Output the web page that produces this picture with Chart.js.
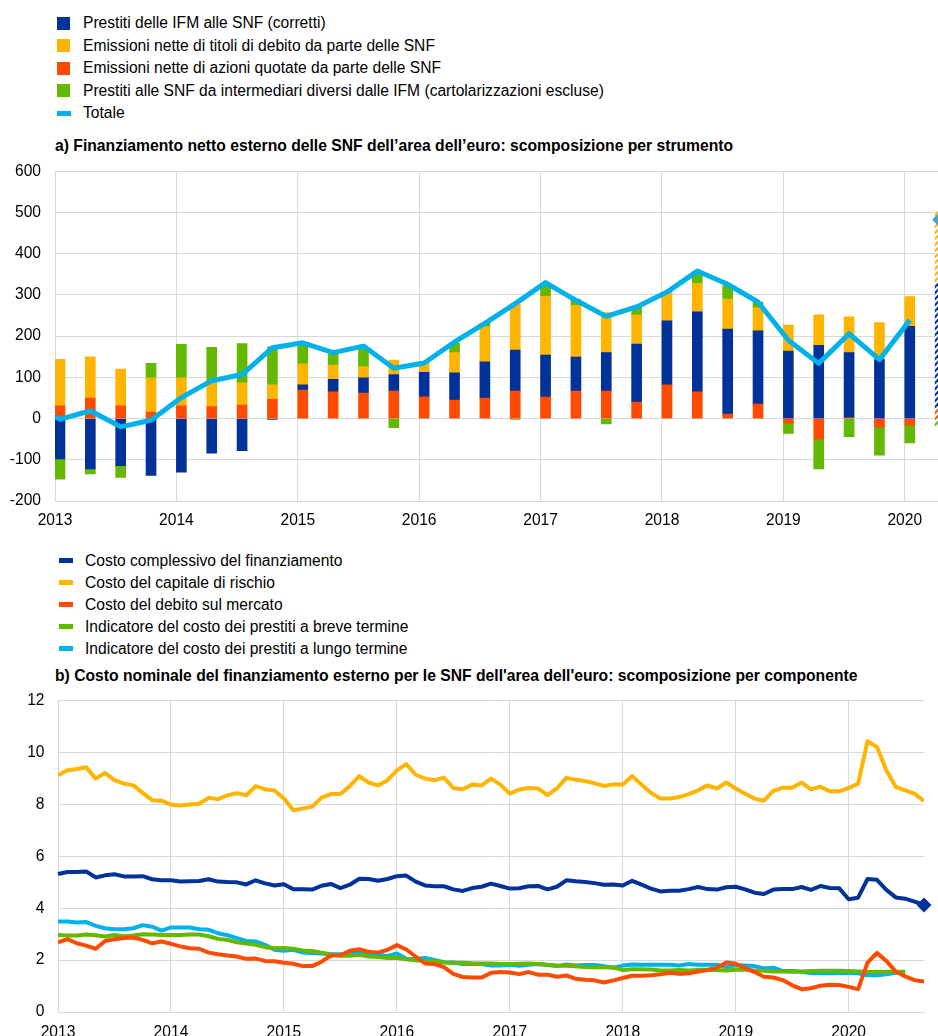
<!DOCTYPE html>
<html>
<head>
<meta charset="utf-8">
<script src="https://cdn.jsdelivr.net/npm/chart.js@4.4.0/dist/chart.umd.min.js"></script>
<style>
html,body{margin:0;padding:0;background:#fff;}
body{width:938px;height:1036px;position:relative;overflow:hidden;font-family:"Liberation Sans",Arial,sans-serif;color:#000;}
.leg{position:absolute;font-size:15.6px;line-height:18px;white-space:nowrap;}
.mk{position:absolute;}
.title{position:absolute;left:55px;font-weight:bold;font-size:15.7px;line-height:18px;white-space:nowrap;}
#wa{position:absolute;left:0;top:148px;}
#wb{position:absolute;left:0;top:678px;}
</style>
</head>
<body>
<div id="legA"></div>
<div class="title" style="top:137px">a) Finanziamento netto esterno delle SNF dell’area dell’euro: scomposizione per strumento</div>
<canvas id="wa" width="938" height="392"></canvas>
<div id="legB"></div>
<div class="title" style="top:667px">b) Costo nominale del finanziamento esterno per le SNF dell'area dell'euro: scomposizione per componente</div>
<canvas id="wb" width="938" height="358"></canvas>
<script>
// ---------- Panel a data (EUR billions, quarterly flows) ----------
const quarters = ['2012Q4',
  '2013Q1','2013Q2','2013Q3','2013Q4','2014Q1','2014Q2','2014Q3','2014Q4',
  '2015Q1','2015Q2','2015Q3','2015Q4','2016Q1','2016Q2','2016Q3','2016Q4',
  '2017Q1','2017Q2','2017Q3','2017Q4','2018Q1','2018Q2','2018Q3','2018Q4',
  '2019Q1','2019Q2','2019Q3','2019Q4','2020Q1','2020Q2'];
const projectedQuarter = '2020Q2';
const equityIssuance = [null,
  31,50,31,16, 31,29,33,47, 69,65,62,67, 53,45,50,67,
  52,67,67,40, 82,65,11,35, -11,-50,2,-21, -16, 25];
const mfiLoans = [null,
  -98,-122,-114,-138, -130,-84,-78,-2, 13,30,37,40, 59,66,88,99,
  102,82,93,141, 155,194,206,178, 164,178,158,143, 224, 303];
const debtIssuance = [null,
  113,100,89,83, 68,63,54,35, 51,35,27,35, 23,49,85,112,
  143,126,97,70, 68,69,73,56, 63,74,87,90, 72, 174];
const nonMfiLoans = [null,
  -49,-12,-29,35, 81,81,95,92, 46,26,46,-22, 0,24,8,-2,
  28,14,-13,20, 0,28,33,14, -25,-72,-44,-68, -43, -20];
const totalFlows = [37,
  -2,19,-20,-4, 51,92,107,172, 184,160,176,122, 135,186,231,279,
  330,287,248,271, 307,358,326,283, 190,134,206,143, 239, null];
const totalProjected = [483];
const yearTicks = [2013,2014,2015,2016,2017,2018,2019,2020];
const yTicksA = [-200,-100,0,100,200,300,400,500,600];

// ---------- Panel b data (% per annum, monthly from Jan 2013) ----------
const monthStart = 2013;
const costOverall = [
  5.32,5.40,5.40,5.42,5.19,5.27,5.31,5.23,5.23,5.24,5.12,5.08,
  5.08,5.03,5.04,5.05,5.12,5.03,5.01,5.00,4.92,5.08,4.96,4.88,
  4.93,4.73,4.73,4.72,4.87,4.94,4.78,4.91,5.14,5.13,5.06,5.13,
  5.24,5.26,5.03,4.88,4.85,4.85,4.73,4.67,4.78,4.83,4.95,4.86,
  4.76,4.77,4.85,4.86,4.73,4.83,5.08,5.04,5.01,4.97,4.91,4.92,
  4.88,5.06,4.91,4.76,4.65,4.68,4.68,4.74,4.82,4.74,4.72,4.81,
  4.83,4.73,4.60,4.55,4.72,4.74,4.74,4.82,4.71,4.86,4.78,4.77,
  4.35,4.41,5.13,5.10,4.71,4.42,4.37,4.26,4.13];
const costEquity = [
  9.13,9.32,9.37,9.44,9.00,9.22,8.94,8.81,8.74,8.45,8.17,8.15,
  8.00,7.96,8.00,8.03,8.26,8.21,8.36,8.44,8.36,8.71,8.59,8.54,
  8.24,7.78,7.85,7.92,8.27,8.41,8.41,8.71,9.10,8.85,8.74,8.94,
  9.32,9.56,9.15,9.00,8.94,9.04,8.64,8.59,8.77,8.74,9.00,8.77,
  8.42,8.58,8.64,8.62,8.36,8.62,9.03,8.96,8.91,8.82,8.72,8.78,
  8.77,9.10,8.77,8.45,8.23,8.23,8.29,8.40,8.55,8.74,8.62,8.85,
  8.62,8.42,8.23,8.15,8.53,8.65,8.65,8.85,8.59,8.69,8.51,8.51,
  8.64,8.81,10.44,10.22,9.32,8.68,8.55,8.42,8.14];
const costMarketDebt = [
  2.69,2.81,2.65,2.56,2.44,2.74,2.81,2.85,2.87,2.78,2.65,2.72,
  2.63,2.53,2.46,2.44,2.29,2.23,2.18,2.14,2.05,2.06,1.97,1.96,
  1.90,1.86,1.77,1.77,1.94,2.18,2.19,2.36,2.42,2.32,2.29,2.40,
  2.58,2.41,2.14,1.87,1.85,1.73,1.47,1.35,1.33,1.33,1.51,1.54,
  1.52,1.46,1.54,1.44,1.44,1.36,1.41,1.28,1.24,1.22,1.14,1.22,
  1.31,1.40,1.40,1.42,1.46,1.51,1.47,1.49,1.56,1.62,1.71,1.91,
  1.86,1.69,1.54,1.36,1.33,1.23,1.03,0.88,0.92,1.01,1.05,1.04,
  0.97,0.88,1.90,2.28,1.97,1.56,1.37,1.23,1.18];
const costShortLoans = [
  2.97,2.95,2.95,2.99,2.96,2.91,2.97,2.92,2.95,3.00,2.99,2.97,
  2.97,2.97,2.99,2.99,2.92,2.82,2.78,2.69,2.64,2.59,2.50,2.46,
  2.47,2.44,2.37,2.35,2.29,2.22,2.17,2.17,2.21,2.14,2.12,2.08,
  2.08,2.03,2.00,1.97,1.95,1.91,1.90,1.90,1.88,1.87,1.87,1.85,
  1.85,1.86,1.87,1.85,1.82,1.79,1.78,1.76,1.74,1.73,1.73,1.72,
  1.62,1.65,1.65,1.64,1.60,1.60,1.62,1.60,1.62,1.63,1.62,1.60,
  1.63,1.63,1.60,1.59,1.56,1.56,1.55,1.56,1.58,1.59,1.59,1.59,
  1.58,1.56,1.54,1.54,1.54,1.55,1.55];
const costLongLoans = [
  3.49,3.49,3.45,3.47,3.32,3.23,3.19,3.19,3.23,3.35,3.29,3.14,
  3.26,3.26,3.26,3.19,3.17,3.04,2.96,2.85,2.74,2.72,2.59,2.40,
  2.36,2.40,2.29,2.28,2.26,2.23,2.23,2.24,2.29,2.26,2.22,2.15,
  2.26,2.05,2.04,2.08,2.01,1.92,1.91,1.85,1.85,1.85,1.79,1.79,
  1.82,1.78,1.82,1.85,1.81,1.77,1.83,1.79,1.81,1.81,1.77,1.71,
  1.79,1.83,1.82,1.82,1.82,1.82,1.79,1.85,1.82,1.82,1.82,1.73,
  1.80,1.79,1.77,1.68,1.71,1.58,1.58,1.55,1.50,1.49,1.49,1.50,
  1.50,1.49,1.42,1.42,1.46,1.51,1.53];
const yTicksB = [0,2,4,6,8,10,12];

// ---------- styling ----------
const C = {blue:'#003299', yellow:'#ffb400', orange:'#ff4b00', green:'#65b800', cyan:'#00b1ea', teal:'#46a6c6', grid:'#d9d9d9'};
const FONT = '"Liberation Sans", Arial, sans-serif';
Chart.defaults.font.family = FONT;
Chart.defaults.font.size = 15.6;
Chart.defaults.color = '#000';

const legendA = [
  {label:'Prestiti delle IFM alle SNF (corretti)', color:C.blue, kind:'box'},
  {label:'Emissioni nette di titoli di debito da parte delle SNF', color:C.yellow, kind:'box'},
  {label:'Emissioni nette di azioni quotate da parte delle SNF', color:C.orange, kind:'box'},
  {label:'Prestiti alle SNF da intermediari diversi dalle IFM (cartolarizzazioni escluse)', color:C.green, kind:'box'},
  {label:'Totale', color:C.cyan, kind:'line'}];
const legendB = [
  {label:'Costo complessivo del finanziamento', color:C.blue},
  {label:'Costo del capitale di rischio', color:C.yellow},
  {label:'Costo del debito sul mercato', color:C.orange},
  {label:'Indicatore del costo dei prestiti a breve termine', color:C.green},
  {label:'Indicatore del costo dei prestiti a lungo termine', color:C.cyan}];

function buildLegend(id, items, y0, dy, mx, tx, kindDefault){
  const host = document.getElementById(id);
  items.forEach((it,i)=>{
    const cy = y0 + i*dy;
    const kind = it.kind || kindDefault;
    const m = document.createElement('div');
    m.className = 'mk';
    m.style.background = it.color;
    if(kind==='box'){ m.style.left=mx+'px'; m.style.top=(cy-6.5)+'px'; m.style.width='13px'; m.style.height='13px'; }
    else { m.style.left=mx+'px'; m.style.top=(cy-2.5)+'px'; m.style.width='14px'; m.style.height='5px'; }
    host.appendChild(m);
    const t = document.createElement('div');
    t.className = 'leg';
    t.style.left = tx+'px'; t.style.top = (cy-9)+'px';
    t.textContent = it.label;
    host.appendChild(t);
  });
}
buildLegend('legA', legendA, 23, 22.5, 57, 83, 'box');
buildLegend('legB', legendB, 560.5, 22, 59, 85, 'line');

// ---------- panel a ----------
const QUARTER_DATE_OFFSET = 0.041; // bars dated shortly after the start of each quarter
function qx(q){ return +q.slice(0,4) + (+q.slice(5)-1)*0.25 + QUARTER_DATE_OFFSET; }
const projIdx = quarters.indexOf(projectedQuarter);
function pts(vals){ return quarters.map((q,i)=>({x:qx(q), y:vals[i]})); }
function hatch(color){
  const c = document.createElement('canvas'); c.width = 6; c.height = 6;
  const g = c.getContext('2d');
  g.fillStyle = '#fff'; g.fillRect(0,0,6,6);
  g.strokeStyle = color; g.lineWidth = 2.2;
  g.beginPath();
  g.moveTo(-1,7); g.lineTo(7,-1);
  g.moveTo(-1,1); g.lineTo(1,-1);
  g.moveTo(5,7); g.lineTo(7,5);
  g.stroke();
  return g.createPattern(c,'repeat');
}
function barSet(label, vals, color){
  const pat = hatch(color);
  return {type:'bar', label, data:pts(vals), order:1,
    backgroundColor:(ctx)=> ctx.dataIndex===projIdx ? pat : color,
    borderWidth:0, barThickness:10};
}
const gridOpts = {color:C.grid, lineWidth:1, drawTicks:false, offset:false};
new Chart(document.getElementById('wa'), {
  data:{datasets:[
    barSet('Emissioni nette di azioni quotate da parte delle SNF', equityIssuance, C.orange),
    barSet('Prestiti delle IFM alle SNF (corretti)', mfiLoans, C.blue),
    barSet('Emissioni nette di titoli di debito da parte delle SNF', debtIssuance, C.yellow),
    barSet('Prestiti alle SNF da intermediari diversi dalle IFM (cartolarizzazioni escluse)', nonMfiLoans, C.green),
    {type:'line', label:'Totale', data:pts(totalFlows), stack:'tot', order:0,
      borderColor:C.cyan, borderWidth:5, pointRadius:0, tension:0, borderJoinStyle:'round', spanGaps:false},
    {type:'line', label:'Totale (stima)', data:[{x:qx(projectedQuarter), y:totalProjected[0]}], stack:'proj', order:0,
      showLine:false, pointStyle:'rectRot', pointRadius:8, pointBackgroundColor:C.teal, pointBorderWidth:0, clip:false}
  ]},
  options:{
    responsive:false, animation:false,
    layout:{padding:0, autoPadding:false},
    plugins:{legend:{display:false}, tooltip:{enabled:false}},
    scales:{
      x:{type:'linear', stacked:true, offset:false, min:yearTicks[0], max:2020.2735,
        afterBuildTicks:(s)=>{ s.ticks = yearTicks.map(v=>({value:v})); },
        ticks:{padding:10, maxRotation:0, autoSkip:false, callback:(v)=>String(v)},
        grid:gridOpts, border:{color:C.grid},
        afterFit:(s)=>{ s.height = 39; }},
      y:{stacked:true, min:yTicksA[0], max:yTicksA[yTicksA.length-1],
        afterBuildTicks:(s)=>{ s.ticks = yTicksA.map(v=>({value:v})); },
        ticks:{padding:14, callback:(v)=>String(v)},
        grid:gridOpts, border:{color:C.grid},
        afterFit:(s)=>{ s.width = 55; }}
    }
  }
});

// ---------- panel b ----------
function mpts(vals){ return vals.map((v,i)=>({x:monthStart + i/12, y:v})); }
function lineSet(label, vals, color, extra){
  return Object.assign({type:'line', label, data:mpts(vals), borderColor:color, backgroundColor:color,
    borderWidth:4, pointRadius:0, tension:0, borderJoinStyle:'round'}, extra||{});
}
const lastB = costOverall.length-1;
new Chart(document.getElementById('wb'), {
  data:{datasets:[
    lineSet(legendB[0].label, costOverall, C.blue, {clip:false,
      pointRadius:(ctx)=> ctx.dataIndex===lastB ? 7.5 : 0, pointStyle:'rectRot', pointBorderWidth:0, pointBackgroundColor:C.blue}),
    lineSet(legendB[1].label, costEquity, C.yellow),
    lineSet(legendB[2].label, costMarketDebt, C.orange),
    lineSet(legendB[3].label, costShortLoans, C.green),
    lineSet(legendB[4].label, costLongLoans, C.cyan)
  ]},
  options:{
    responsive:false, animation:false,
    layout:{padding:{top:0,left:0,right:14,bottom:0}, autoPadding:false},
    plugins:{legend:{display:false}, tooltip:{enabled:false}},
    scales:{
      x:{type:'linear', offset:false, min:monthStart, max:monthStart + lastB/12,
        afterBuildTicks:(s)=>{ s.ticks = yearTicks.map(v=>({value:v})); },
        ticks:{padding:11, maxRotation:0, autoSkip:false, callback:(v)=>String(v)},
        grid:gridOpts, border:{color:C.grid},
        afterFit:(s)=>{ s.height = 24; }},
      y:{min:yTicksB[0], max:yTicksB[yTicksB.length-1],
        afterBuildTicks:(s)=>{ s.ticks = yTicksB.map(v=>({value:v})); },
        ticks:{padding:13.5, callback:(v)=>String(v)},
        grid:gridOpts, border:{color:C.grid},
        afterFit:(s)=>{ s.width = 58; }}
    }
  }
});
</script>
</body>
</html>
